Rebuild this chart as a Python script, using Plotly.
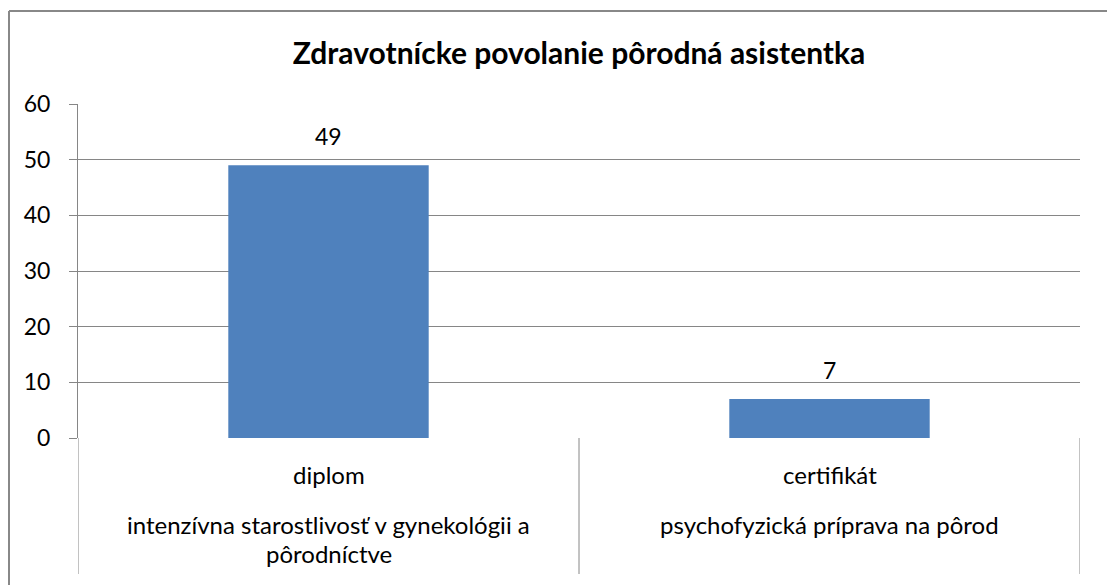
import plotly.graph_objects as go

# Data
categories = ["diplom", "certifikát"]
sublabels = [
    ["intenzívna starostlivosť v gynekológii a", "pôrodníctve"],
    ["psychofyzická príprava na pôrod"],
]
values = [49, 7]
title = "Zdravotnícke povolanie pôrodná asistentka"
y_ticks = [0, 10, 20, 30, 40, 50, 60]

W, H = 1107, 585
ML, MR, MT, MB = 78, 27, 104, 147
PW, PH = W - ML - MR, H - MT - MB

FONT = "Lato, Calibri, Carlito, sans-serif"
FS = 23
FS_CAT = 24
GRID = "#868686"
BAR = "#4F81BD"


def px_y(py):
    return (H - MB - py) / PH


def px_x(px):
    return (px - ML) / PW


fig = go.Figure()
fig.add_trace(go.Bar(
    x=categories, y=values, marker=dict(color=BAR, line=dict(width=0)),
    width=0.4, showlegend=False, hoverinfo="x+y",
))

annotations = []
# value labels
for c, v in zip(categories, values):
    annotations.append(dict(x=c, y=v, xref="x", yref="y", text=str(v), showarrow=False,
                            yanchor="bottom", yshift=13, font=dict(size=FS, color="#000", family=FONT)))
# category labels level 1
for c in categories:
    annotations.append(dict(x=c, y=px_y(474), xref="x", yref="paper", text=c, showarrow=False,
                            yanchor="middle", font=dict(size=FS_CAT, color="#000", family=FONT)))
# category labels level 2 (each line)
for c, lines in zip(categories, sublabels):
    for i, line in enumerate(lines):
        annotations.append(dict(x=c, y=px_y(524 + 29 * i), xref="x", yref="paper", text=line,
                                showarrow=False, yanchor="middle",
                                font=dict(size=FS_CAT, color="#000", family=FONT)))

shapes = []
# category separators
for xv in [-0.5, 0.5, 1.5]:
    shapes.append(dict(type="line", xref="x", yref="paper", x0=xv, x1=xv, y0=0, y1=px_y(574),
                       line=dict(color=GRID, width=1)))
# chart border (left and top)
shapes.append(dict(type="line", xref="paper", yref="paper", x0=px_x(9), x1=px_x(9),
                   y0=px_y(11), y1=px_y(585), line=dict(color="#888888", width=2)))
shapes.append(dict(type="line", xref="paper", yref="paper", x0=px_x(9), x1=px_x(1107),
                   y0=px_y(11), y1=px_y(11), line=dict(color="#888888", width=2)))

fig.update_layout(
    width=W, height=H,
    margin=dict(l=ML, r=MR, t=MT, b=MB, pad=0),
    paper_bgcolor="white", plot_bgcolor="white",
    title=dict(text="<b>" + title + "</b>", x=0.5, xref="paper", xanchor="center",
               y=1 - 53 / H, yanchor="middle", font=dict(size=30, color="#000", family=FONT)),
    xaxis=dict(type="category", range=[-0.5, 1.5], showticklabels=False, showgrid=False,
               ticks="", showline=False, zeroline=False),
    yaxis=dict(range=[0, 60], tickvals=y_ticks, showgrid=True, gridcolor=GRID, gridwidth=1,
               ticks="outside", ticklen=8, tickcolor=GRID, showline=True, linecolor=GRID,
               linewidth=1, zeroline=False, ticklabelstandoff=14,
               tickfont=dict(size=FS, color="#000", family=FONT)),
    annotations=annotations, shapes=shapes, bargap=0.6,
    font=dict(family=FONT),
)

fig.write_html("out.html", config={"displayModeBar": False},
               post_script="document.body.style.margin='0';")
